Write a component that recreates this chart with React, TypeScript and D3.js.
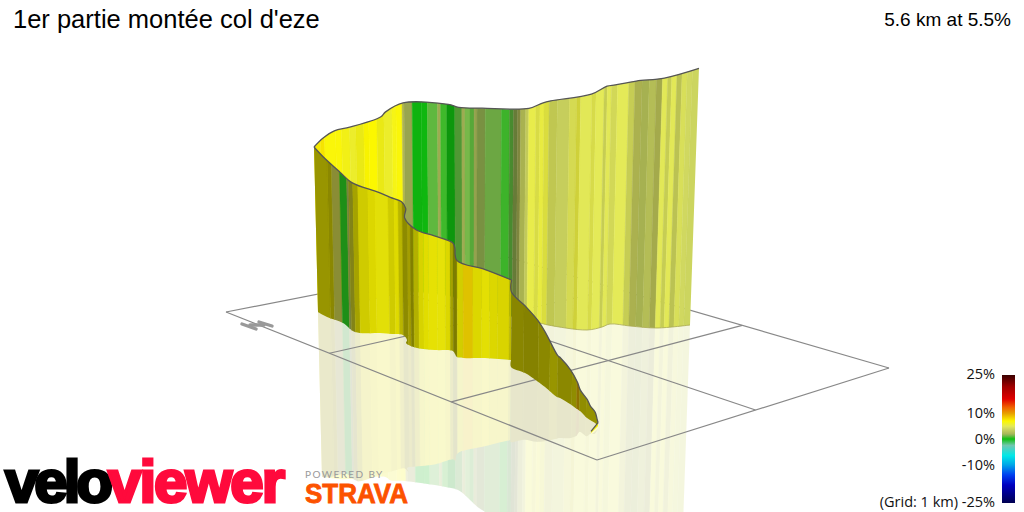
import React from "react";
import * as d3 from "d3";

// road samples as seen from the camera, km across the view and km down the ground plane,
// climb is metres above the start. Far side first, left to right
const farRoadX = [3.18, 3.27, 3.38, 3.53, 3.83, 3.88, 4.05, 4.49, 4.59, 4.82, 5.27, 5.4, 5.48, 5.87, 6.02, 6.1, 6.3, 6.57, 6.9];
const farRoadY = [3.12, 3.08, 3.05, 3.03, 2.97, 2.96, 2.92, 2.96, 2.99, 3.09, 3.2, 3.23, 3.25, 3.3, 3.27, 3.24, 3.26, 3.28, 3.25];
const farClimb = [198, 204, 209, 211, 216, 221, 227, 230, 230, 241, 254, 264, 269, 283, 289, 287, 294, 300, 308];

// near side, from the hairpin back down to the start
const nearRoadX = [3.18, 3.27, 3.43, 3.55, 3.8, 3.92, 4.03, 4.07, 4.06, 4.17, 4.35, 4.53, 4.55, 4.57, 4.85, 5.11];
const nearRoadY = [3.12, 3.17, 3.23, 3.32, 3.33, 3.34, 3.35, 3.4, 3.43, 3.48, 3.5, 3.51, 3.54, 3.57, 3.58, 3.6];
const nearClimb = [198, 192, 181, 179, 169, 164, 160, 158, 150, 142, 137, 130, 128, 116, 106, 96];

const lowerRoadX = [5.11, 5.11, 5.25, 5.37, 5.45, 5.57, 5.6, 5.7, 5.77, 5.8, 5.87, 5.9, 5.95, 5.97, 5.98];
const lowerRoadY = [3.6, 3.67, 3.73, 3.81, 3.87, 3.97, 3.98, 4.04, 4.09, 4.11, 4.18, 4.2, 4.23, 4.25, 4.26];
const lowerClimb = [96, 90, 80, 73, 65, 50, 48, 41, 32, 25, 22, 17, 13, 7, 4];

const startRoadX = [5.98, 5.91];
const startRoadY = [4.26, 4.33];
const startClimb = [4, 2];

// gradient bands along each wall: edge (km across view), gradient %, wall facing to the light in degrees
const farEdge = [3.1, 3.22, 3.26, 3.37, 3.43, 3.51, 3.57, 3.65, 3.7, 3.78, 3.85, 3.93, 3.97, 4.03, 4.05, 4.13, 4.22, 4.28, 4.38, 4.41, 4.47, 4.55, 4.62, 4.65, 4.7, 4.74, 4.77, 4.85, 5.01, 5.09, 5.13, 5.17, 5.2, 5.25, 5.28, 5.35, 5.39, 5.43, 5.48, 5.56, 5.68, 5.75, 5.79, 5.9, 5.94, 6.02, 6.05, 6.09, 6.15, 6.26, 6.32, 6.39, 6.46, 6.53, 6.59, 6.64, 6.68, 6.73, 6.78, 6.83, 6.88, 7.05];
const farGrade = [7.3, 7.6, 6.8, 6.8, 6.5, 6, 6.5, 7, 7, 6.5, 6, 6.5, 6.8, 4, 2.2, 0, 0, 1, 2, 0.6, 0, 1, 2, 1.3, 1, 2, 1.8, 1.3, 0.6, 1, 1.8, 3, 3.5, 4, 5.3, 5.3, 5.5, 5.5, 4.5, 4, 5, 5.5, 5, 5.2, 5, 4.5, 5, 4.6, 5, 4.5, 4, 3, 3.5, 4, 5, 4.5, 5, 4.2, 4.6, 4, 3.8];
const farFacing = [15, 10, 0, 0, 15, 15, 25, 15, 5, 25, 15, 5, 0, 45, 40, 30, 25, 10, 30, 15, 55, 50, 30, 0, 35, 40, 55, 35, 25, 60, 70, 70, 45, 30, 0, 30, 10, 30, 40, 25, 30, 40, 10, 30, 0, 35, 10, 25, 5, 35, 50, 40, 35, 55, 10, 35, 10, 40, 15, 0, 0];

const nearEdge = [3.1, 3.28, 3.32, 3.4, 3.47, 3.49, 3.53, 3.58, 3.68, 3.75, 3.88, 3.94, 3.98, 4.02, 4.07, 4.1, 4.13, 4.18, 4.23, 4.28, 4.37, 4.45, 4.5, 4.53, 4.57, 4.63, 4.73, 4.82, 4.9, 4.98, 5.1, 5.2];
const nearGrade = [7, 7, 5, 0.3, 2, 6, 7, 7, 7, 6.8, 7, 7, 7, 7, 7.2, 7, 7, 7, 7, 6.9, 6.8, 7, 7, 7, 7, 8.2, 7, 6.9, 7, 7, 7];
const nearFacing = [78, 84, 78, 60, 65, 85, 72, 50, 42, 36, 50, 40, 62, 83, 72, 88, 65, 45, 38, 34, 33, 42, 72, 90, 48, 34, 42, 36, 42, 44, 60];

const lowerEdge = [5, 5.25, 5.4, 5.52, 5.6, 5.75, 5.8, 5.83, 5.9, 6.1];
const lowerGrade = [7, 7, 7, 7, 7, 7, 9, 7, 7];
const lowerFacing = [85, 87, 84, 78, 84, 82, 78, 82, 80];

const startEdge = [5.8, 6.1];
const startGrade = [7];
const startFacing = [15];

// colour bar
const legendGrades = [25, 20.4, 15.6, 12.4, 10, 7, 5, 4, 2, 1.2, 0, -2.5, -6.5, -10, -14, -18, -25];
const legendColors = ["#3a0000", "#a00000", "#e00000", "#f06000", "#e8a000", "#fcf700", "#e4ea58", "#d0d860", "#a8b858", "#70b848", "#10c010", "#70c8b0", "#00e8e8", "#00a8e8", "#0040f0", "#0000c0", "#000050"];
const legendTicks = [25, 10, 0, -10, -25];

// ground grid, 1 km cells
const gridCols = [0, 1, 2, 3];
const gridRows = [0, 1, 2];

const width = 1024;
const height = 512;

const xScale = d3.scaleLinear().domain([0, 10.24]).range([0, width]);
const yScale = d3.scaleLinear().domain([0, 5.12]).range([0, height]);
const climbScale = d3.scaleLinear().domain([0, 310]).range([0, 258.3]);
const gradeColor = d3.scaleLinear<string>().domain(legendGrades).range(legendColors).clamp(true);
const legendY = d3.scaleLinear().domain([-25, 25]).range([503, 375]);

// verticals lean away from this axis because the camera looks down
const leanX = 470;
const leanK = 0.000159;

const pathOf = d3.line().curve(d3.curveLinear);
const smoothOf = d3.line().curve(d3.curveCatmullRom.alpha(0.5));

function lean(x: number, rise: number) {
  return leanX + (x - leanX) * (1 + leanK * rise);
}

function wallShape(xs: number[], ys: number[], climb: number[], sign: number) {
  const edge = xs.map((x, i) => {
    const h = climbScale(climb[i]);
    return [lean(xScale(x), sign * h), yScale(ys[i]) - sign * h] as [number, number];
  });
  const base = xs.map((x, i) => [xScale(x), yScale(ys[i])] as [number, number]);
  const outline = smoothOf(edge) + "L" + (smoothOf(base.slice().reverse()) as string).slice(1) + "Z";
  return { edge, base, outline };
}

function shaded(grade: number, facing: number) {
  const c = d3.rgb(gradeColor(grade));
  const s = 0.5 + 0.5 * Math.cos((facing * Math.PI) / 180);
  return d3.rgb(c.r * s, c.g * s, c.b * s).formatHex();
}

function bandPolygon(x0: number, x1: number) {
  const a = xScale(x0);
  const b = xScale(x1);
  const refRise = 100;
  const at = (x: number, y: number): [number, number] => [
    leanX + ((x - leanX) * (1 + leanK * (300 - y))) / (1 + leanK * refRise),
    y,
  ];
  return [at(a, -20), at(b, -20), at(b, 560), at(a, 560)];
}

const sections = [
  { id: "far", xs: farRoadX, ys: farRoadY, climb: farClimb, edges: farEdge, grades: farGrade, facing: farFacing },
  { id: "near", xs: nearRoadX, ys: nearRoadY, climb: nearClimb, edges: nearEdge, grades: nearGrade, facing: nearFacing },
  { id: "lower", xs: lowerRoadX, ys: lowerRoadY, climb: lowerClimb, edges: lowerEdge, grades: lowerGrade, facing: lowerFacing },
  { id: "start", xs: startRoadX, ys: startRoadY, climb: startClimb, edges: startEdge, grades: startGrade, facing: startFacing },
];

// projective map of the grid square onto the picture
const corners = { left: [226, 312], bottom: [597, 460], right: [889, 368], back: [507, 257] };

function gridPoint(u: number, v: number): [number, number] {
  const [x0, y0] = corners.left;
  const [x1, y1] = corners.bottom;
  const [x2, y2] = corners.right;
  const [x3, y3] = corners.back;
  const dx1 = x1 - x2;
  const dx2 = x3 - x2;
  const sx = x0 - x1 + x2 - x3;
  const dy1 = y1 - y2;
  const dy2 = y3 - y2;
  const sy = y0 - y1 + y2 - y3;
  const den = dx1 * dy2 - dx2 * dy1;
  const g = (sx * dy2 - dx2 * sy) / den;
  const h = (dx1 * sy - sx * dy1) / den;
  const a = x1 - x0 + g * x1;
  const b = x3 - x0 + h * x3;
  const d = y1 - y0 + g * y1;
  const e = y3 - y0 + h * y3;
  const w = g * u + h * v + 1;
  return [(a * u + b * v + x0) / w, (d * u + e * v + y0) / w];
}

const uMax = d3.max(gridCols) as number;
const vMax = d3.max(gridRows) as number;

function Wall({ s, sign }: { s: (typeof sections)[number]; sign: number }) {
  const shape = wallShape(s.xs, s.ys, s.climb, sign);
  const clipId = `${s.id}-${sign > 0 ? "wall" : "mirror"}`;
  return (
    <g>
      <clipPath id={clipId}>
        <path d={shape.outline} />
      </clipPath>
      <g clipPath={`url(#${clipId})`}>
        {s.grades.map((g, i) => {
          const c = shaded(g, s.facing[i]);
          return (
            <path
              key={i}
              d={pathOf(bandPolygon(s.edges[i], s.edges[i + 1])) + "Z"}
              fill={c}
              stroke={c}
              strokeWidth={0.4}
            />
          );
        })}
      </g>
      {/* faint foot line on the far wall only */}
      {sign > 0 && s.id === "far" && (
        <path d={smoothOf(shape.base) as string} fill="none" stroke="#a8a850" strokeWidth={0.8} />
      )}
    </g>
  );
}

export default function App() {
  const walls = sections.map((s) => wallShape(s.xs, s.ys, s.climb, 1));
  return (
    <svg width={width} height={height} style={{ position: "absolute", left: 0, top: 0, background: "#fff" }}>
      <defs>
        <linearGradient id="legend-ramp" x1="0" y1="0" x2="0" y2="1">
          {legendGrades.map((g, i) => (
            <stop key={g} offset={(25 - g) / 50} stopColor={legendColors[i]} />
          ))}
        </linearGradient>
      </defs>

      {/* mirror image under the ground plane */}
      <g opacity={0.2}>
        {sections.map((s) => (
          <Wall key={s.id} s={s} sign={-1} />
        ))}
      </g>

      {/* grid */}
      <g fill="none" stroke="#888" strokeWidth={1.2}>
        {gridCols.map((c) => (
          <path key={c} d={pathOf([gridPoint(c / uMax, 0), gridPoint(c / uMax, 1)]) as string} />
        ))}
        {gridRows.map((r) => (
          <path key={r} d={pathOf([gridPoint(0, r / vMax), gridPoint(1, r / vMax)]) as string} />
        ))}
      </g>
      <g stroke="#999" strokeWidth={3.4} strokeLinecap="round">
        <line x1={242} y1={324} x2={256} y2={329} />
        <line x1={250} y1={325} x2={264} y2={325} />
        <line x1={259} y1={322} x2={272} y2={326} />
      </g>

      {/* the wall itself, far side painted first */}
      {sections.map((s) => (
        <Wall key={s.id} s={s} sign={1} />
      ))}
      {walls.map((w, i) => (
        <path key={i} d={smoothOf(w.edge) as string} fill="none" stroke="#555" strokeWidth={1.3} />
      ))}

      <text x={13} y={28} fontFamily="Liberation Sans" fontSize={25.5} fill="#000">
        1er partie montée col d'eze
      </text>
      <text x={1011} y={26} textAnchor="end" fontFamily="Liberation Sans" fontSize={19} fill="#000">
        5.6 km at 5.5%
      </text>

      {/* colour bar */}
      <rect x={1002} y={legendY(25)} width={13} height={legendY(-25) - legendY(25)} fill="url(#legend-ramp)" />
      <g fontFamily="Open Sans" fontSize={14.5} fill="#111" textAnchor="end">
        {legendTicks.map((t) => (
          <text key={t} x={995} y={t === 25 ? 379 : t === -25 ? 507 : legendY(t) + 5}>
            {t === -25 ? `(Grid: 1 km) ${t}%` : `${t}%`}
          </text>
        ))}
      </g>

      {/* logos */}
      <g fontFamily="Liberation Sans" fontWeight="bold" fontSize={60}>
        <text x={5} y={502} textLength={108} lengthAdjust="spacing" fill="#000" stroke="#000" strokeWidth={3}>
          velo
        </text>
        <text x={108} y={502} textLength={177} lengthAdjust="spacing" fill="#ff0a3c" stroke="#ff0a3c" strokeWidth={3}>
          viewer
        </text>
      </g>
      <text x={305} y={478} fontFamily="Lato" fontSize={10} letterSpacing={1.4} fill="#999">
        POWERED BY
      </text>
      <text
        x={305}
        y={503}
        fontFamily="Liberation Sans"
        fontWeight="bold"
        fontSize={27}
        textLength={103}
        lengthAdjust="spacingAndGlyphs"
        fill="#fc5200"
        stroke="#fc5200"
        strokeWidth={0.8}
      >
        STRAVA
      </text>
    </svg>
  );
}
